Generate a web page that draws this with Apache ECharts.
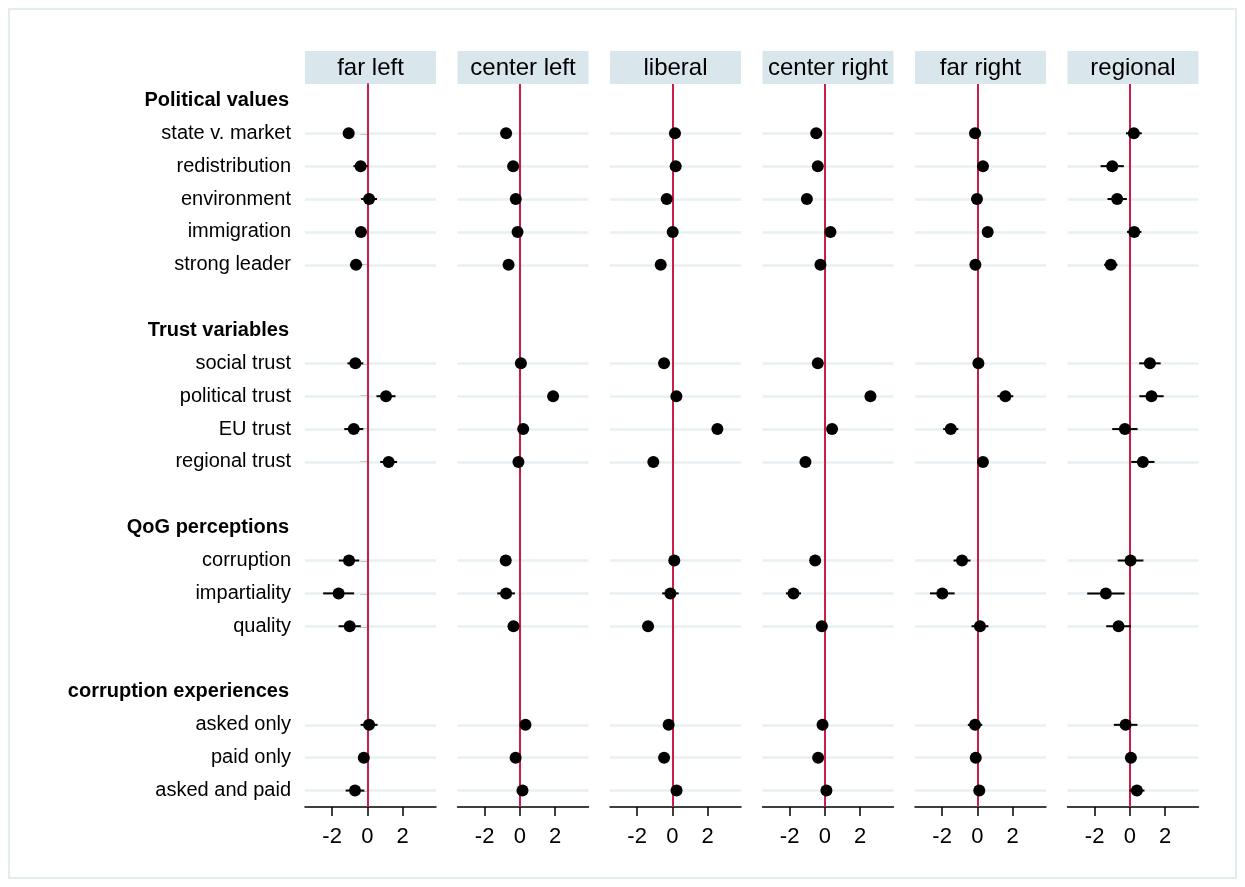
<!DOCTYPE html>
<html><head><meta charset="utf-8">
<script src="https://cdn.jsdelivr.net/npm/echarts@6/dist/echarts.min.js"></script>
<style>html,body{margin:0;padding:0;background:#fff}#c{width:1245px;height:887px}</style>
</head><body><div id="c"></div>
<script>
const panels = ['far left', 'center left', 'liberal', 'center right', 'far right', 'regional'];
const rows = ['Political values', 'state v. market', 'redistribution', 'environment', 'immigration', 'strong leader', ' ',
  'Trust variables', 'social trust', 'political trust', 'EU trust', 'regional trust', '  ',
  'QoG perceptions', 'corruption', 'impartiality', 'quality', '   ',
  'corruption experiences', 'asked only', 'paid only', 'asked and paid'];
const groupHeaders = ['Political values', 'Trust variables', 'QoG perceptions', 'corruption experiences'];
const variables = ['state v. market', 'redistribution', 'environment', 'immigration', 'strong leader',
  'social trust', 'political trust', 'EU trust', 'regional trust',
  'corruption', 'impartiality', 'quality',
  'asked only', 'paid only', 'asked and paid'];
const xTicks = [-2, 0, 2];

// point estimates (one per variable) and half-widths of the confidence intervals
const estFarLeft     = [-1.06, -0.38, 0.10, -0.36, -0.64, -0.68, 1.06, -0.77, 1.21, -1.04, -1.63, -1.00, 0.10, -0.20, -0.70];
const ciFarLeft      = [0.30, 0.41, 0.45, 0.33, 0.35, 0.45, 0.54, 0.54, 0.48, 0.58, 0.88, 0.63, 0.48, 0.25, 0.53];
const estCenterLeft  = [-0.78, -0.38, -0.23, -0.13, -0.64, 0.06, 1.89, 0.19, -0.08, -0.80, -0.78, -0.36, 0.32, -0.24, 0.15];
const ciCenterLeft   = [0.20, 0.20, 0.20, 0.20, 0.20, 0.20, 0.25, 0.25, 0.20, 0.30, 0.50, 0.30, 0.25, 0.20, 0.20];
const estLiberal     = [0.15, 0.19, -0.32, 0.02, -0.66, -0.47, 0.23, 2.56, -1.08, 0.11, -0.11, -1.38, -0.21, -0.47, 0.24];
const ciLiberal      = [0.20, 0.20, 0.20, 0.20, 0.20, 0.20, 0.20, 0.25, 0.20, 0.30, 0.47, 0.30, 0.20, 0.20, 0.20];
const estCenterRight = [-0.49, -0.40, -1.02, 0.32, -0.25, -0.40, 2.59, 0.41, -1.10, -0.55, -1.78, -0.17, -0.13, -0.38, 0.09];
const ciCenterRight  = [0.20, 0.20, 0.20, 0.20, 0.20, 0.20, 0.25, 0.25, 0.20, 0.25, 0.43, 0.25, 0.20, 0.20, 0.20];
const estFarRight    = [-0.13, 0.32, -0.02, 0.59, -0.11, 0.06, 1.59, -1.51, 0.32, -0.87, -1.99, 0.15, -0.13, -0.09, 0.11];
const ciFarRight     = [0.25, 0.25, 0.30, 0.25, 0.25, 0.30, 0.45, 0.43, 0.25, 0.48, 0.70, 0.48, 0.41, 0.25, 0.25];
const estRegional    = [0.23, -1.00, -0.72, 0.25, -1.08, 1.14, 1.23, -0.28, 0.74, 0.04, -1.36, -0.64, -0.24, 0.06, 0.40];
const ciRegional     = [0.45, 0.66, 0.55, 0.41, 0.38, 0.61, 0.69, 0.72, 0.66, 0.73, 1.06, 0.70, 0.67, 0.30, 0.43];

const estimates = [estFarLeft, estCenterLeft, estLiberal, estCenterRight, estFarRight, estRegional];
const halfWidths = [ciFarLeft, ciCenterLeft, ciLiberal, ciCenterRight, ciFarRight, ciRegional];

// layout
const FONT = "'Liberation Sans', Arial, sans-serif";
const gridLeft0 = 305, gridStep = 152.5, gridW = 131, gridTop = 84, gridH = 723;
const headerTop = 51, headerH = 33;
const X_MIN = -3.54, X_MAX = 3.9;

const grids = [], xAxes = [], yAxes = [], series = [], graphics = [];

graphics.push({ type: 'rect', shape: { x: 9, y: 9, width: 1227, height: 869 },
  style: { fill: 'none', stroke: '#e3ecef', lineWidth: 2 }, silent: true });

panels.forEach((name, p) => {
  const left = gridLeft0 + p * gridStep;
  grids.push({ left: left, top: gridTop, width: gridW, height: gridH, containLabel: false });
  graphics.push({ type: 'rect', shape: { x: left, y: headerTop, width: gridW, height: headerH },
    style: { fill: '#d9e6ec' }, silent: true });
  graphics.push({ type: 'text', x: left + gridW / 2, y: headerTop + headerH / 2 + 1,
    style: { text: name, font: '24px ' + FONT, fill: '#000', textAlign: 'center', textVerticalAlign: 'middle' }, silent: true });

  xAxes.push({
    type: 'value', gridIndex: p, min: X_MIN, max: X_MAX,
    axisLine: { show: true, onZero: false, lineStyle: { color: '#000', width: 1.5 } },
    axisTick: { show: true, length: 9, customValues: xTicks, lineStyle: { color: '#000', width: 1.5 } },
    axisLabel: { show: true, customValues: xTicks, fontSize: 22, fontFamily: FONT, color: '#000', margin: 19 },
    splitLine: { show: false }
  });

  const first = p === 0;
  yAxes.push({
    type: 'category', gridIndex: p, data: rows, inverse: true, boundaryGap: true,
    axisLine: { show: first, lineStyle: { color: '#000', width: 1.5 } },
    axisTick: { show: first, alignWithLabel: true, length: 7, lineStyle: { color: '#000', width: 1.5 },
      interval: (i, v) => variables.indexOf(rows[i]) >= 0 },
    axisLabel: { show: first, interval: 0, margin: 14, fontSize: 20, fontFamily: FONT, color: '#000',
      formatter: v => groupHeaders.indexOf(v) >= 0 ? '{b|' + v + '}' : v,
      rich: { b: { fontWeight: 'bold', fontSize: 20, fontFamily: FONT, color: '#000', padding: [0, 2, 0, 0] } } },
    splitLine: { show: false }
  });

  // light horizontal reference lines at each variable row
  series.push({
    type: 'scatter', xAxisIndex: p, yAxisIndex: p, data: [], silent: true, z: 1,
    markLine: { silent: true, z: 1, symbol: 'none', animation: false, label: { show: false },
      lineStyle: { color: '#e9f0f3', width: 2.5, type: 'solid' },
      emphasis: { disabled: true },
      data: variables.map(v => ({ yAxis: v })) }
  });
  // red zero line
  series.push({
    type: 'scatter', xAxisIndex: p, yAxisIndex: p, data: [], silent: true, z: 2,
    markLine: { silent: true, z: 2, symbol: 'none', animation: false, label: { show: false },
      lineStyle: { color: '#cc1d48', width: 2, type: 'solid' },
      emphasis: { disabled: true },
      data: [{ xAxis: 0 }] }
  });
  // confidence intervals
  series.push({
    type: 'custom', xAxisIndex: p, yAxisIndex: p, z: 3, silent: true, animation: false,
    encode: { x: [1, 2], y: 0 },
    data: variables.map((v, i) => [rows.indexOf(v), estimates[p][i] - halfWidths[p][i], estimates[p][i] + halfWidths[p][i]]),
    renderItem: (params, api) => {
      const a = api.coord([api.value(1), api.value(0)]);
      const b = api.coord([api.value(2), api.value(0)]);
      return { type: 'line', shape: { x1: a[0], y1: a[1], x2: b[0], y2: b[1] },
        style: { stroke: '#000', lineWidth: 2 } };
    }
  });
  // point estimates
  series.push({
    type: 'scatter', xAxisIndex: p, yAxisIndex: p, z: 4, silent: true, animation: false,
    symbol: 'circle', symbolSize: 12, itemStyle: { color: '#000', opacity: 1 },
    data: variables.map((v, i) => [estimates[p][i], rows.indexOf(v)])
  });
});

const chart = echarts.init(document.getElementById('c'), null, { renderer: 'canvas' });
chart.setOption({
  backgroundColor: '#fff',
  animation: false,
  grid: grids, xAxis: xAxes, yAxis: yAxes, series: series,
  graphic: graphics
});
</script>
</body></html>
